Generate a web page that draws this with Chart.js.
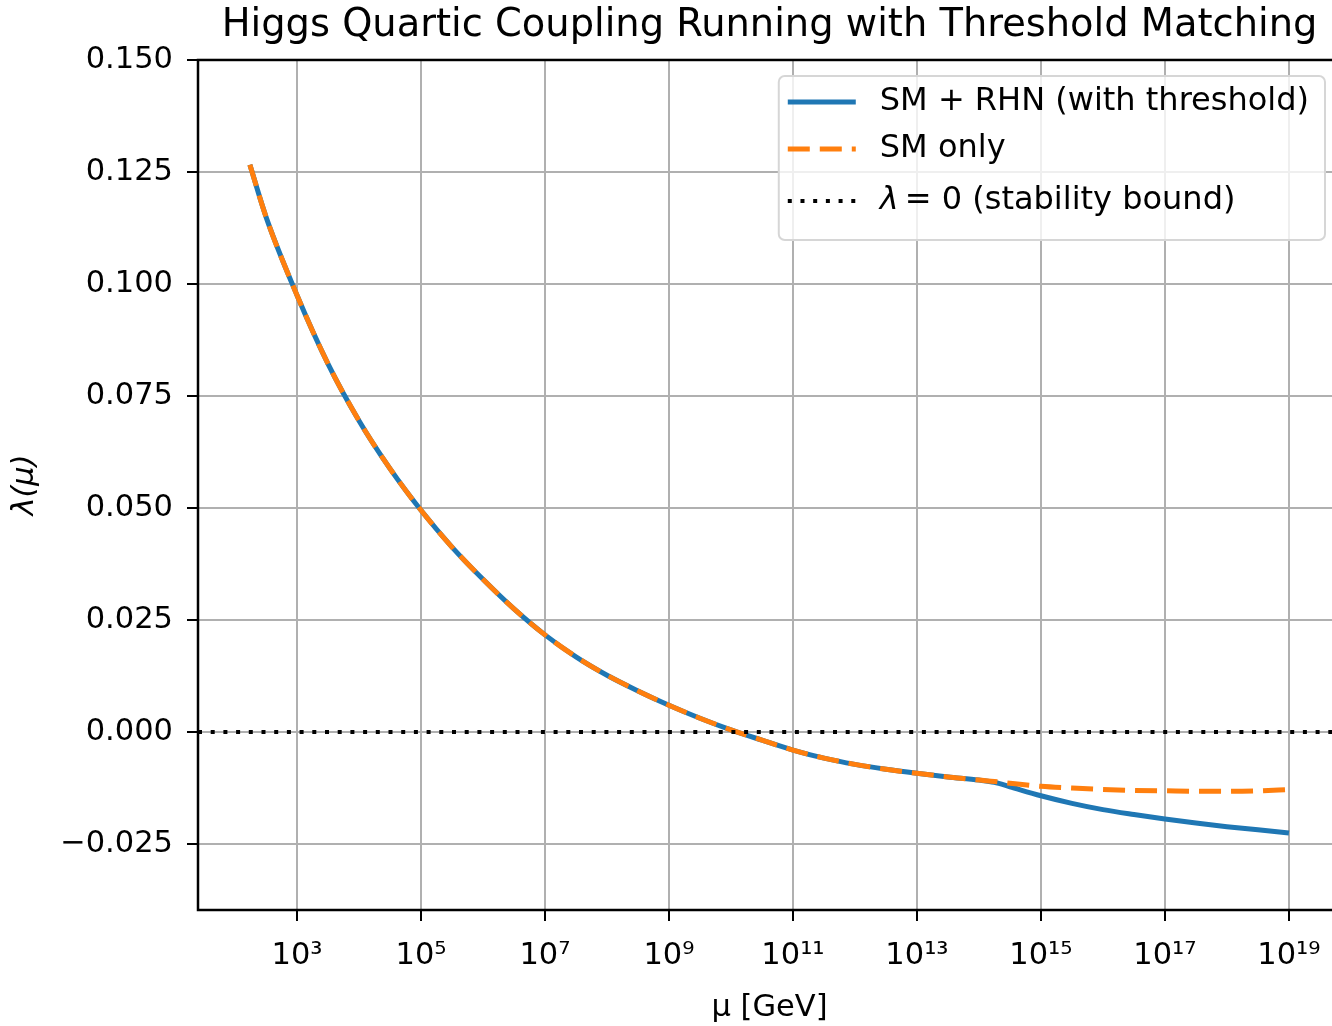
<!DOCTYPE html>
<html>
<head>
<meta charset="utf-8">
<script src="https://cdn.jsdelivr.net/npm/chart.js@4.4.1/dist/chart.umd.min.js"></script>
<style>
html, body { margin: 0; padding: 0; overflow: hidden; background: #fff; }
#wrap { position: relative; width: 1332px; height: 1026px; overflow: hidden; }
#chart { position: absolute; left: 0; top: 0; }
</style>
</head>
<body>
<div id="wrap"><canvas id="chart" width="1360" height="1026"></canvas></div>
<script>
// log10(mu / GeV) sample points
var logMu = [2.24, 2.5, 3.0, 3.5, 4.0, 4.5, 5.0, 5.5, 6.0, 6.5, 7.0, 7.5, 8.0, 8.5, 9.0, 9.5,
	10.0, 10.5, 11.0, 11.5, 12.0, 12.5, 13.0, 13.5, 14.0, 14.25, 14.5, 15.0, 15.5, 16.0,
	16.5, 17.0, 17.5, 18.0, 18.5, 19.0];
// SM + RHN (with threshold)
var lamRHN = [0.1266, 0.1150, 0.0975, 0.0822, 0.0695, 0.0588, 0.0495, 0.0413, 0.0341, 0.0275,
	0.0217, 0.0168, 0.0127, 0.0092, 0.0060, 0.0031, 0.0005, -0.0018, -0.0040, -0.0058,
	-0.0072, -0.0083, -0.0092, -0.0100, -0.0107, -0.0112, -0.0122, -0.0142, -0.0159, -0.0173,
	-0.0184, -0.0194, -0.0203, -0.0211, -0.0218, -0.0225];
// SM only
var lamSM = [0.1266, 0.1150, 0.0975, 0.0822, 0.0695, 0.0588, 0.0495, 0.0413, 0.0341, 0.0275,
	0.0217, 0.0168, 0.0127, 0.0092, 0.0060, 0.0031, 0.0005, -0.0018, -0.0040, -0.0058,
	-0.0072, -0.0083, -0.0092, -0.0100, -0.0107, -0.0110, -0.0114, -0.0121, -0.0125, -0.0128,
	-0.0130, -0.0131, -0.0132, -0.0132, -0.0131, -0.0128];

var xTickExp = [3, 5, 7, 9, 11, 13, 15, 17, 19];
var yTicks = [-0.025, 0, 0.025, 0.05, 0.075, 0.1, 0.125, 0.15];
var xLimExp = [1.403, 19.84];
var yLim = [-0.0397, 0.150];

var FONT = '"DejaVu Sans", sans-serif';
var SUP = {'0':'\u2070','1':'\u00b9','2':'\u00b2','3':'\u00b3','4':'\u2074','5':'\u2075','6':'\u2076','7':'\u2077','8':'\u2078','9':'\u2079'};

function pts(arr){
	return arr.map(function(v, i){ return {x: Math.pow(10, logMu[i]), y: v}; });
}
function sup(n){
	return String(n).split('').map(function(c){ return SUP[c]; }).join('');
}

var framePlugin = {
	id: 'frame',
	afterDatasetsDraw: function(chart){
		var a = chart.chartArea, c = chart.ctx;
		c.save();
		c.strokeStyle = '#000';
		c.lineWidth = 2.5;
		c.strokeRect(a.left, a.top, a.right - a.left, a.bottom - a.top);
		c.restore();
	}
};

var legendPlugin = {
	id: 'boxLegend',
	afterDatasetsDraw: function(chart){
		var a = chart.chartArea, c = chart.ctx;
		var sets = chart.data.datasets;
		var fs = '32px ';
		c.save();
		c.font = fs + FONT;
		var w = 0;
		sets.forEach(function(d){ w = Math.max(w, c.measureText(d.label).width); });
		var right = a.right - 16, top = a.top + 16;
		var width = 9 + 68 + 24 + w + 16, height = 164;
		var left = right - width;
		c.beginPath();
		c.roundRect(left, top, width, height, 6);
		c.fillStyle = 'rgba(255,255,255,0.8)';
		c.fill();
		c.lineWidth = 2;
		c.strokeStyle = '#d6d6d6';
		c.stroke();
		var rows = [26, 73, 125];
		sets.forEach(function(d, i){
			var y = top + rows[i];
			c.beginPath();
			c.setLineDash(d.borderDash || []);
			c.strokeStyle = d.borderColor;
			c.lineWidth = d.borderWidth;
			c.moveTo(left + 9, y);
			c.lineTo(left + 77, y);
			c.stroke();
			c.setLineDash([]);
			c.fillStyle = '#000';
			c.textBaseline = 'middle';
			c.textAlign = 'left';
			var tx = left + 101;
			if (d.label.charAt(0) === '\u03bb') {
				c.font = 'italic ' + fs + FONT;
				c.fillText('\u03bb', tx, y);
				tx += c.measureText('\u03bb').width + 6;
				c.font = fs + FONT;
				c.fillText(d.label.slice(1).trim(), tx, y);
			} else {
				c.fillText(d.label, tx, y);
			}
		});
		c.restore();
	}
};

var ctx = document.getElementById('chart').getContext('2d');
var chart = new Chart(ctx, {
	type: 'line',
	data: {
		datasets: [{
			label: 'SM + RHN (with threshold)',
			data: pts(lamRHN),
			borderColor: '#1f77b4',
			borderWidth: 5,
			pointRadius: 0,
			cubicInterpolationMode: 'monotone',
			borderJoinStyle: 'round',
			fill: false,
			order: 3
		}, {
			label: 'SM only',
			data: pts(lamSM),
			borderColor: '#ff7f0e',
			borderWidth: 5,
			borderDash: [22, 10],
			pointRadius: 0,
			cubicInterpolationMode: 'monotone',
			borderJoinStyle: 'round',
			fill: false,
			order: 2
		}, {
			label: '\u03bb = 0 (stability bound)',
			data: [{x: Math.pow(10, xLimExp[0]), y: 0}, {x: Math.pow(10, xLimExp[1]), y: 0}],
			borderColor: '#000',
			borderWidth: 4,
			borderDash: [4, 8.7],
			pointRadius: 0,
			fill: false,
			order: 1
		}]
	},
	options: {
		responsive: false,
		animation: false,
		devicePixelRatio: 1,
		layout: { padding: { left: 0, right: 19, top: 0, bottom: 0 } },
		plugins: {
			legend: { display: false },
			tooltip: { enabled: false },
			title: {
				display: true,
				fullSize: false,
				text: 'Higgs Quartic Coupling Running with Threshold Matching',
				color: '#000',
				font: { family: FONT, size: 38.4, weight: 'normal', lineHeight: 1.2 },
				padding: { top: 3, bottom: 10.9 }
			}
		},
		scales: {
			x: {
				type: 'logarithmic',
				min: Math.pow(10, xLimExp[0]),
				max: Math.pow(10, xLimExp[1]),
				afterBuildTicks: function(s){
					s.ticks = xTickExp.map(function(e){ return {value: Math.pow(10, e)}; });
				},
				afterFit: function(s){ s.height = 116; },
				ticks: {
					callback: function(v){ return '10' + sup(Math.round(Math.log10(v))); },
					font: { family: FONT, size: 30.5 },
					color: '#000',
					padding: 17,
					maxRotation: 0,
					autoSkip: false
				},
				grid: { color: '#b0b0b0', lineWidth: 2, tickLength: 11, tickColor: '#000', tickWidth: 2 },
				border: { display: false },
				title: {
					display: true,
					text: '\u03bc [GeV]',
					color: '#000',
					font: { family: FONT, size: 30.5, lineHeight: 1.0 },
					padding: { top: 0, bottom: 2.5 }
				}
			},
			y: {
				type: 'linear',
				min: yLim[0],
				max: yLim[1],
				afterBuildTicks: function(s){
					s.ticks = yTicks.map(function(v){ return {value: v}; });
				},
				afterFit: function(s){ s.width = 198; },
				ticks: {
					callback: function(v){ return v.toFixed(3).replace('-', '\u2212'); },
					font: { family: FONT, size: 30.5 },
					color: '#000',
					padding: 14
				},
				grid: { color: '#b0b0b0', lineWidth: 2, tickLength: 11, tickColor: '#000', tickWidth: 2 },
				border: { display: false },
				title: {
					display: true,
					text: '\u03bb(\u03bc)',
					color: '#000',
					font: { family: FONT, size: 30.5, style: 'italic', lineHeight: 1.2 },
					padding: { top: 7, bottom: 0 }
				}
			}
		}
	},
	plugins: [framePlugin, legendPlugin]
});
</script>
</body>
</html>
